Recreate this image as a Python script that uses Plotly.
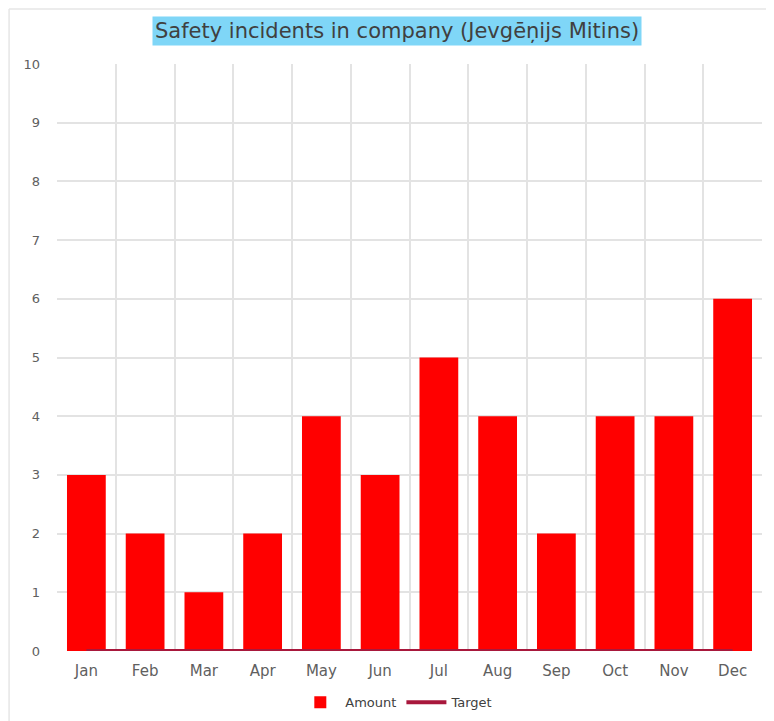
import plotly.graph_objects as go

months = ["Jan", "Feb", "Mar", "Apr", "May", "Jun", "Jul", "Aug", "Sep", "Oct", "Nov", "Dec"]
amount = [3, 2, 1, 2, 4, 3, 5, 4, 2, 4, 4, 6]
target = [0, 0, 0, 0, 0, 0, 0, 0, 0, 0, 0, 0]
title_text = "Safety incidents in company (Jevgēņijs Mitins)"

FONT = "DejaVu Sans, Liberation Sans, Arial, sans-serif"

fig = go.Figure()
fig.add_trace(go.Bar(x=months, y=amount, name="Amount", marker=dict(color="#ff0000", line=dict(width=0))))
fig.add_trace(go.Scatter(x=months, y=target, name="Target", mode="lines",
                         line=dict(color="#a8183c", width=4)))

fig.update_layout(
    width=766, height=713,
    margin=dict(l=49, r=12, t=56, b=70, autoexpand=False),
    paper_bgcolor="white", plot_bgcolor="white",
    bargap=0.34,
    font=dict(family=FONT, color="#595959", size=13),
    showlegend=True,
    legend=dict(orientation="h", x=0.482, xanchor="center", y=-0.062, yanchor="top",
                font=dict(size=13, color="#404040"), traceorder="normal", itemwidth=40),
    xaxis=dict(showgrid=True, gridcolor="#e3e3e3", gridwidth=2, tickson="boundaries",
               ticks="", showline=False, zeroline=False, ticklabelstandoff=9,
               tickfont=dict(size=15, color="#606060"), range=[-0.5, 11.5]),
    yaxis=dict(range=[0, 10], dtick=1, showgrid=True, gridcolor="#e3e3e3", gridwidth=2,
               zeroline=False, ticks="", showline=False, ticklabelstandoff=16,
               tickfont=dict(size=13, color="#606060")),
    annotations=[dict(text=title_text, xref="paper", yref="paper", x=0.482, y=1.056,
                      xanchor="center", yanchor="middle", showarrow=False,
                      font=dict(size=21, color="#404040", family=FONT),
                      bgcolor="#7fd6f7", borderpad=2)],
    shapes=[
        dict(type="line", xref="paper", yref="paper", x0=-0.068, x1=1.03, y0=1.0937, y1=1.0937,
             line=dict(color="#e6e6e6", width=1.5), layer="below"),
        dict(type="line", xref="paper", yref="paper", x0=-0.068, x1=-0.068, y0=-0.12, y1=1.0937,
             line=dict(color="#e6e6e6", width=1.5), layer="below"),
    ],
)

fig.write_html("out.html")
